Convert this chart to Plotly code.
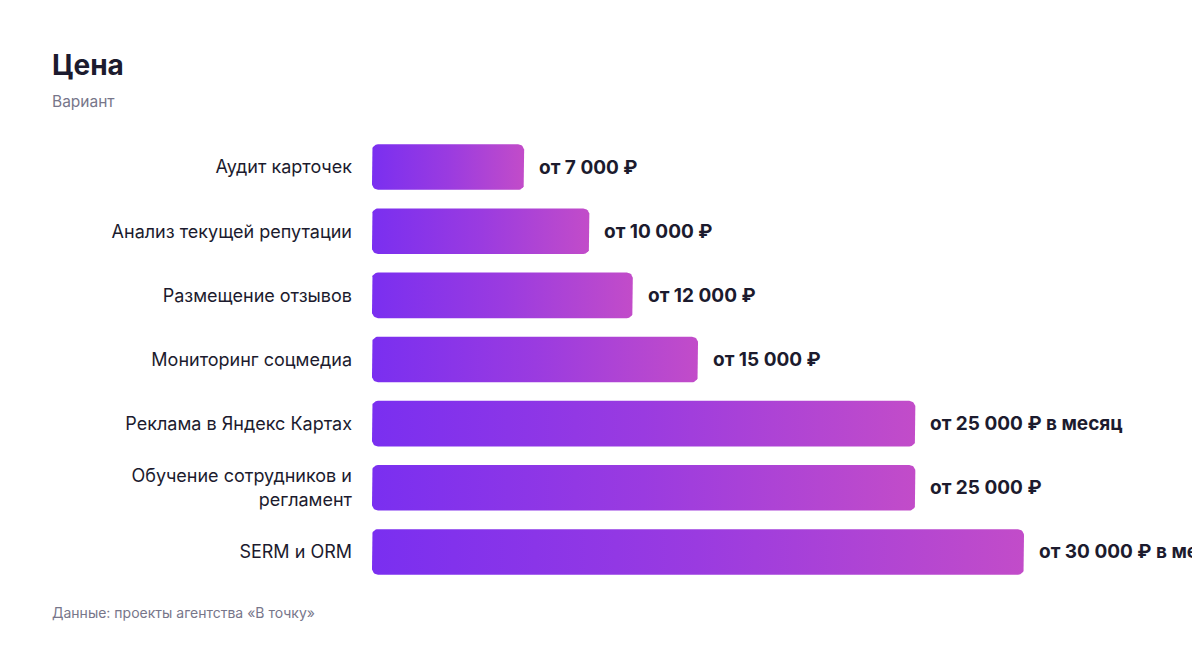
import math

import plotly.graph_objects as go

# Data
services = [
    "Аудит карточек",
    "Анализ текущей репутации",
    "Размещение отзывов",
    "Мониторинг соцмедиа",
    "Реклама в Яндекс Картах",
    "Обучение сотрудников и<br>регламент",
    "SERM и ORM",
]
prices = [7000, 10000, 12000, 15000, 25000, 25000, 30000]
price_labels = [
    "от 7 000 ₽",
    "от 10 000 ₽",
    "от 12 000 ₽",
    "от 15 000 ₽",
    "от 25 000 ₽ в месяц",
    "от 25 000 ₽",
    "от 30 000 ₽ в месяц",
]

TEXT = "#1c1b2e"
MUTED = "#77768a"
FONT = "Inter, Roboto, sans-serif"

# Layout geometry (pixels); page body adds an 8px offset
OFF = 8
W, H = 1200, 648
ML, MR, MT, MB = 372 - OFF, 176 + OFF, 135 - OFF, 64 + OFF
PW, PH = W - ML - MR, H - MT - MB
X_MAX = 30000
BAR_HALF = 0.355  # fraction of a row
RADIUS = 6  # px

kx = PW / X_MAX          # px per ruble
ky = PH / len(services)  # px per row


def rounded_bar(value, row):
    """Outline of a rounded rectangle from 0 to value at row, in data units."""
    rx = RADIUS / kx
    ry = RADIUS / ky
    x0, x1 = 0, value
    y0, y1 = row - BAR_HALF, row + BAR_HALF
    corners = [
        (x1 - rx, y0 + ry, -90, 0),
        (x1 - rx, y1 - ry, 0, 90),
        (x0 + rx, y1 - ry, 90, 180),
        (x0 + rx, y0 + ry, 180, 270),
    ]
    xs, ys = [], []
    for cx, cy, a0, a1 in corners:
        for k in range(9):
            a = math.radians(a0 + (a1 - a0) * k / 8)
            xs.append(cx + rx * math.cos(a))
            ys.append(cy + ry * math.sin(a))
    xs.append(xs[0])
    ys.append(ys[0])
    return xs, ys


fig = go.Figure()

for i, (name, val) in enumerate(zip(services, prices)):
    xs, ys = rounded_bar(val, i)
    fig.add_trace(
        go.Scatter(
            x=xs,
            y=ys,
            mode="lines",
            fill="toself",
            line=dict(width=0),
            fillgradient=dict(
                type="horizontal",
                colorscale=[[0, "#7a2ff0"], [0.5, "#9a3be0"], [1, "#c24cc9"]],
            ),
            hoverinfo="skip",
            showlegend=False,
        )
    )

# value labels at bar ends
for i, (val, lab) in enumerate(zip(prices, price_labels)):
    fig.add_annotation(
        x=val,
        y=i,
        text=f"<b>{lab}</b>",
        showarrow=False,
        xanchor="left",
        yanchor="middle",
        xshift=13,
        font=dict(family=FONT, size=19, color=TEXT),
    )

fig.update_xaxes(
    range=[0, X_MAX],
    visible=False,
    fixedrange=True,
)
fig.update_yaxes(
    range=[len(services) - 0.5, -0.5],
    tickvals=list(range(len(services))),
    ticktext=services,
    showgrid=False,
    zeroline=False,
    showline=False,
    ticks="",
    ticklabelstandoff=19,
    tickfont=dict(family=FONT, size=18, color=TEXT),
)

LEFT = 52 - OFF
fig.add_annotation(
    text="Вариант",
    xref="paper", yref="paper",
    x=(LEFT - ML) / PW, y=1 + (MT - (102 - OFF)) / PH,
    xanchor="left", yanchor="middle", xshift=-2,
    showarrow=False,
    font=dict(family=FONT, size=15.5, color=MUTED),
)
fig.add_annotation(
    text="Данные: проекты агентства «В точку»",
    xref="paper", yref="paper",
    x=(LEFT - ML) / PW, y=-((612 - OFF) - (MT + PH)) / PH,
    xanchor="left", yanchor="middle", xshift=-2,
    showarrow=False,
    font=dict(family=FONT, size=14, color=MUTED),
)

fig.update_layout(
    width=W,
    height=H,
    margin=dict(l=ML, r=MR, t=MT, b=MB),
    paper_bgcolor="white",
    plot_bgcolor="white",
    title=dict(
        text="<b>Цена</b>",
        x=LEFT / W,
        xanchor="left",
        xref="container",
        y=1 - (65 - OFF) / H,
        yanchor="middle",
        yref="container",
        font=dict(family=FONT, size=28, color=TEXT),
    ),
    showlegend=False,
)

fig.write_html("out.html")
